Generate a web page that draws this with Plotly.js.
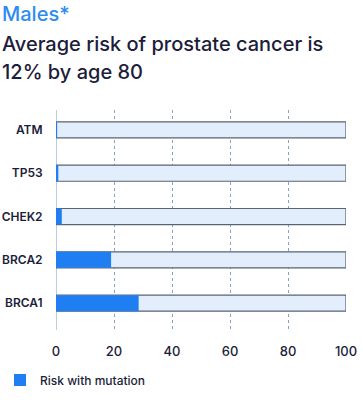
<!DOCTYPE html>
<html>
<head>
<meta charset="utf-8">
<script src="https://cdn.plot.ly/plotly-3.0.1.min.js"></script>
<style>html,body{margin:0;padding:0;background:#fff;}#chart{width:363px;height:403px;}</style>
</head>
<body>
<div id="chart"></div>
<script>
const genes = ['BRCA1', 'BRCA2', 'CHEK2', 'TP53', 'ATM'];
const riskWithMutation = [28.5, 19, 2, 0.8, 0.4];
const fullScale = [100, 100, 100, 100, 100];
const xTicks = [0, 20, 40, 60, 80, 100];

const traces = [
  {
    type: 'bar', orientation: 'h', y: genes, x: fullScale, width: 0.37,
    marker: {color: '#e3eefc', line: {color: '#5a6373', width: 1.2}},
    showlegend: false, hoverinfo: 'skip'
  },
  {
    type: 'bar', orientation: 'h', y: genes, x: riskWithMutation, width: 0.37,
    name: 'Risk with mutation',
    marker: {color: '#1f7ef2', line: {width: 0}}
  }
];

// plot area: x 56..346 px, y 110..330 px
const px = v => (v - 56) / 290;
const py = v => (330 - v) / 220;

const layout = {
  width: 363, height: 403,
  margin: {l: 56, r: 17, t: 110, b: 73, autoexpand: false},
  paper_bgcolor: '#ffffff', plot_bgcolor: '#ffffff',
  barmode: 'overlay',
  font: {family: 'Inter, sans-serif', color: '#1c1d3a'},
  xaxis: {
    range: [0, 100], tickvals: xTicks, ticktext: xTicks.map(String),
    showgrid: true, gridcolor: '#8aa3c4', griddash: 'dot', gridwidth: 1,
    zeroline: false, showline: false, ticks: 'outside', ticklen: 9, tickcolor: 'rgba(0,0,0,0)',
    tickfont: {size: 13, color: '#1c1d3a', weight: 500}, fixedrange: true
  },
  yaxis: {
    type: 'category', categoryorder: 'array', categoryarray: genes,
    range: [-0.62, 4.46], showgrid: false, zeroline: false, showline: false,
    ticks: 'outside', ticklen: 10, tickcolor: 'rgba(0,0,0,0)',
    tickfont: {size: 12, color: '#1c1d3a', weight: 600}
  },
  shapes: [
    {type: 'line', xref: 'x', yref: 'paper', x0: 0, x1: 0, y0: 0, y1: 1,
     line: {color: '#a8bccf', width: 1.5}, layer: 'below'}
  ],
  legend: {
    orientation: 'h', xref: 'container', yref: 'container', x: 0, y: 1 - 380 / 403,
    xanchor: 'left', yanchor: 'middle',
    font: {size: 12, color: '#1c1d3a', weight: 500}, itemwidth: 30
  },
  annotations: [
    {xref: 'paper', yref: 'paper', x: px(0), y: py(14), xanchor: 'left', yanchor: 'middle',
     text: 'Males*', showarrow: false, font: {size: 20, color: '#2e8cf0', weight: 500}},
    {xref: 'paper', yref: 'paper', x: px(0), y: py(44), xanchor: 'left', yanchor: 'middle',
     text: 'Average risk of prostate cancer is', showarrow: false, font: {size: 20, color: '#1c1d3a', weight: 500}},
    {xref: 'paper', yref: 'paper', x: px(0), y: py(72), xanchor: 'left', yanchor: 'middle',
     text: '12% by age 80', showarrow: false, font: {size: 20, color: '#1c1d3a', weight: 500}}
  ]
};

Plotly.newPlot('chart', traces, layout, {displayModeBar: false, staticPlot: true});
</script>
</body>
</html>
